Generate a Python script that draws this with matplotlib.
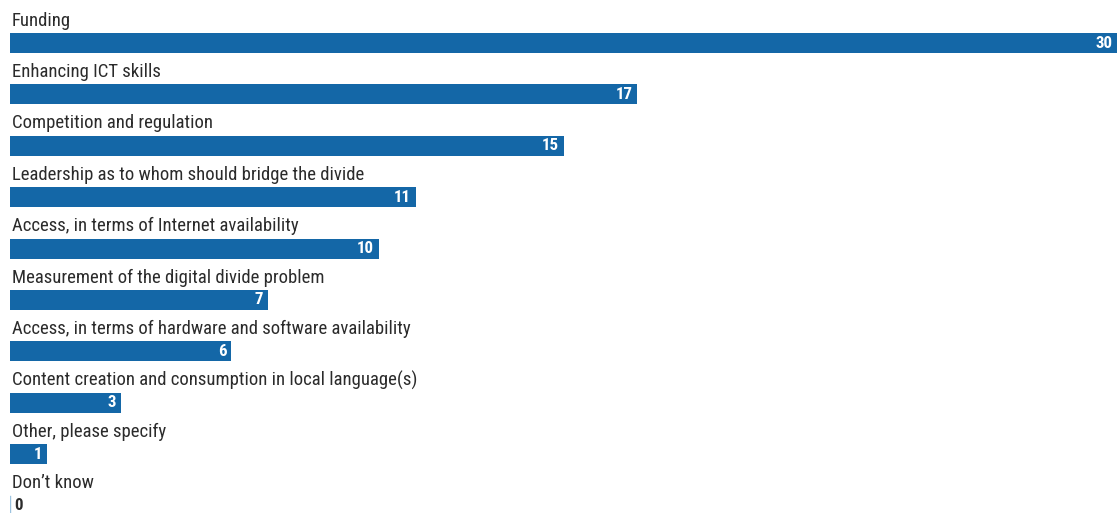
import matplotlib

matplotlib.use("Agg")

import matplotlib.pyplot as plt
import numpy as np
from matplotlib import font_manager

categories = [
    "Funding",
    "Enhancing ICT skills",
    "Competition and regulation",
    "Leadership as to whom should bridge the divide",
    "Access, in terms of Internet availability",
    "Measurement of the digital divide problem",
    "Access, in terms of hardware and software availability",
    "Content creation and consumption in local language(s)",
    "Other, please specify",
    "Don\u2019t know",
]
values = [30, 17, 15, 11, 10, 7, 6, 3, 1, 0]

BAR_COLOR = "#1467a7"
TEXT_COLOR = "#2b2b2b"
W, H = 1120, 513
ROW_TOP = 43.0    # px, centre of first bar
ROW_STEP = 51.4   # px between rows
BAR_PX = 20.0
LABEL_OFFSET_PX = 22.5
LONGEST_LABEL_PX = 352.0  # width of "Leadership ..." in the reference
VALUE_PX = 17.0           # width of the bold "30"

# prefer a narrow face, the reference uses a condensed sans
fonts = font_manager.fontManager.ttflist
names = {f.name for f in fonts}
family = "DejaVu Sans"
for cand in ("Roboto Condensed", "Open Sans Condensed", "Liberation Sans Narrow"):
    if cand in names:
        family = cand
        break
plt.rcParams["font.family"] = [family, "DejaVu Sans"]

fig = plt.figure(figsize=(W / 100, H / 100), dpi=100)
ax = fig.add_axes((10 / W, 0, (1117 - 10) / W, 1))


def fitted_size(text, target_px, **kw):
    renderer = fig.canvas.get_renderer()
    probe = fig.text(0, 0, text, fontsize=12, **kw)
    width = probe.get_window_extent(renderer).width
    probe.remove()
    return 12 * target_px / width


label_size = fitted_size(categories[3], LONGEST_LABEL_PX)
value_size = fitted_size("30", VALUE_PX, fontweight="bold")

y = np.arange(len(categories))
ax.set_xlim(0, max(values))
ax.set_ylim((H - ROW_TOP) / ROW_STEP, -ROW_TOP / ROW_STEP)
ax.axis("off")

bar_h = BAR_PX / ROW_STEP
ax.barh(y, values, height=bar_h, color=BAR_COLOR, linewidth=0)

px = max(values) / (1117 - 10)
for yi, cat, val in zip(y, categories, values):
    ax.text(0.05, yi - LABEL_OFFSET_PX / ROW_STEP, cat, ha="left", va="center",
            fontsize=label_size, color=TEXT_COLOR)
    if val > 0:
        ax.text(val - 5 * px, yi, str(val), ha="right", va="center",
                fontsize=value_size, fontweight="bold", color="white")
    else:
        ax.plot([0, 0], [yi - bar_h / 2, yi + bar_h / 2], color="#9cc3e0", lw=1)
        ax.text(4 * px, yi, str(val), ha="left", va="center",
                fontsize=value_size, fontweight="bold", color=TEXT_COLOR)

fig.savefig("out.png", dpi=100)
